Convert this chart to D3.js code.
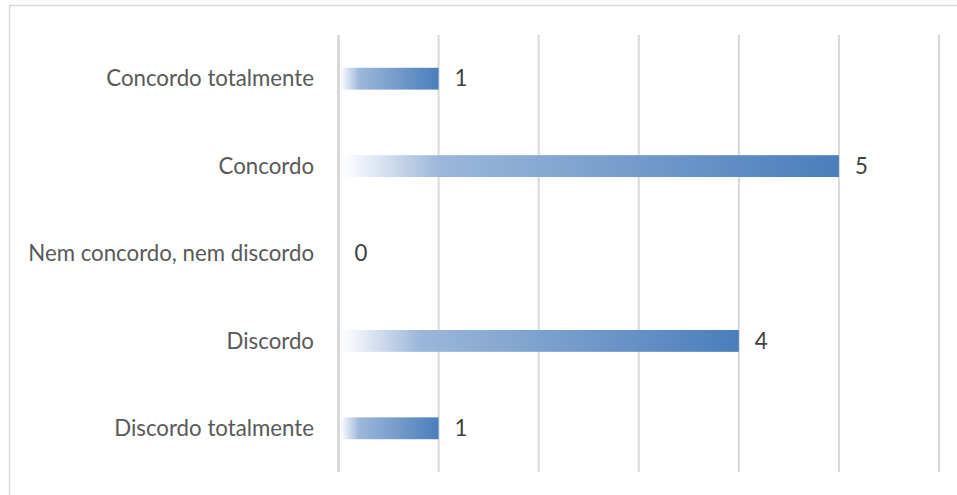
<!DOCTYPE html>
<html><head><meta charset="utf-8">
<script src="https://cdn.jsdelivr.net/npm/d3@7"></script>
<style>html,body{margin:0;padding:0;background:#fff;}</style>
</head><body>
<svg id="c" width="957" height="495"></svg>
<script>
const categories = ["Concordo totalmente","Concordo","Nem concordo, nem discordo","Discordo","Discordo totalmente"];
const values = [1,5,0,4,1];
const ticks = [0,1,2,3,4,5,6];

const svg = d3.select("#c");
const font = "Lato, 'Open Sans', sans-serif";
// chart border
svg.append("rect").attr("x",9.5).attr("y",5.5).attr("width",960).attr("height",500)
  .attr("fill","#fff").attr("stroke","#d9d9d9").attr("stroke-width",1.5);

const x = d3.scaleLinear().domain([0,6]).range([338.5,939]);
const y = d3.scaleBand().domain(categories).range([35,472]).paddingInner(0.75).paddingOuter(0.375);

const defs = svg.append("defs");
const g = defs.append("linearGradient").attr("id","grad").attr("x1","0").attr("x2","1").attr("y1","0").attr("y2","0");
g.append("stop").attr("offset","0").attr("stop-color","#ffffff");
g.append("stop").attr("offset","0.03").attr("stop-color","#f4f7fb");
g.append("stop").attr("offset","0.2").attr("stop-color","#9cb7da");
g.append("stop").attr("offset","1").attr("stop-color","#4a7ebb");

// gridlines
svg.append("g").selectAll("line").data(ticks.slice(1)).join("line")
  .attr("x1",d=>x(d)).attr("x2",d=>x(d)).attr("y1",35).attr("y2",472)
  .attr("stroke","#d9d9d9").attr("stroke-width",2);

// bars
svg.append("g").selectAll("rect").data(values).join("rect")
  .attr("x",x(0)+1).attr("y",(d,i)=>y(categories[i]))
  .attr("width",d=>Math.max(0,x(d)-x(0)-1)).attr("height",y.bandwidth())
  .attr("fill","url(#grad)");

// axis line
svg.append("line").attr("x1",x(0)).attr("x2",x(0)).attr("y1",35).attr("y2",472)
  .attr("stroke","#d9d9d9").attr("stroke-width",3);

// category labels
const cl = svg.append("g").selectAll("text").data(categories).join("text")
  .attr("x",314).attr("y",d=>y(d)+y.bandwidth()/2).attr("dy","0.35em")
  .attr("text-anchor","end").attr("fill","#595959")
  .style("font-family",font).style("font-size","16px").text(d=>d);
// scale font so longest label matches reference width (~286px)
let w = cl.nodes()[2].getComputedTextLength();
const fs = 16*286/w;
cl.style("font-size",fs+"px");

// value labels
svg.append("g").selectAll("text").data(values).join("text")
  .attr("x",d=>x(d)+16).attr("y",(d,i)=>y(categories[i])+y.bandwidth()/2).attr("dy","0.35em")
  .attr("fill","#404040").style("font-family",font).style("font-size",fs+"px").text(d=>d);
</script>
</body></html>
